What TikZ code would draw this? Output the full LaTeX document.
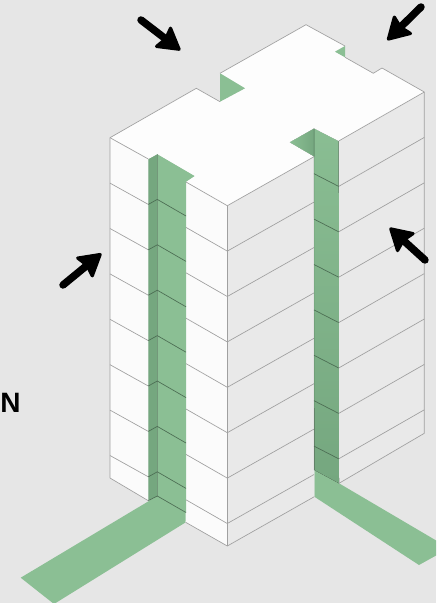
\documentclass[tikz,border=0pt]{standalone}
\usepackage{fontspec}
\setmainfont{Liberation Sans}
\usetikzlibrary{calc}
\definecolor{bgc}{HTML}{E6E6E6}
\definecolor{topc}{HTML}{FDFDFD}
\definecolor{leftc}{HTML}{FBFBFB}
\definecolor{rightc}{HTML}{E9E9E9}
\definecolor{greenc}{HTML}{8BBF94}
\definecolor{greend}{HTML}{75A77F}
\definecolor{greenm}{HTML}{7AAB84}
\definecolor{edgec}{HTML}{A0A0A0}
\tikzset{
  x=0.75pt,y=-0.75pt,
  edgeline/.style={draw=edgec,line width=0.5pt},
  greenline/.style={draw=greend!65!black,line width=0.5pt},
  windshaft/.style={draw=black,line width=5.6pt,line cap=round},
  windhead/.style={draw=black,fill=black,line width=2.4pt,line join=round}
}
\begin{document}
\begin{tikzpicture}
\useasboundingbox (0,0) rectangle (436,603);
\clip (0,0) rectangle (436,603);
\fill[bgc] (0,0) rectangle (436,603);
% ground strips
\fill[greenc] (157.3,496) -- (186,512.5) -- (185.7,522.3) -- (54,604) -- (20.7,577.7) -- cycle;
\fill[greenc] (314.3,470) -- (314.3,496.7) -- (419,565) -- (437,555) -- (437,541) -- (339,483.3) -- cycle;
% walls
\fill[leftc] (110,137.7) -- (148.3,159) -- (148.3,500.7) -- (110,478) -- cycle;
\fill[leftc] (186,182) -- (227.3,205.7) -- (227.3,546) -- (185.7,522.3) -- cycle;
\fill[rightc] (227.3,205.7) -- (314.3,156.7) -- (314.3,496.7) -- (227.3,546) -- cycle;
\fill[rightc] (338.7,141) -- (424.3,92) -- (424.3,433.3) -- (339,483.3) -- cycle;
% shaft one
\fill[greend] (148.3,159) -- (157.3,154) -- (157.3,496) -- (148.3,500.7) -- cycle;
\fill[greenc] (157.3,154) -- (195,176) -- (186,182) -- (186,512.5) -- (157.3,496) -- cycle;
% shaft two
\fill[top color=greenc!92!greenm,bottom color=greend] (314,128.3) -- (338.7,141) -- (339,483.3) -- (314.3,470) -- cycle;
\fill[left color=greenc,right color=greend] (289.3,142.3) -- (314,128.3) -- (314,156.7) -- cycle;
% top
\fill[topc] (110,137.7) -- (196.3,88.3) -- (220,101.7) -- (245,88.3) -- (220,73.3) -- (306,24.7) -- (345,46) -- (335,51.7) -- (373.3,73.3) -- (382,68) -- (424.3,92) -- (338.7,141) -- (314,128.3) -- (289.3,142.3) -- (314,156.7) -- (227.3,205.7) -- (186,182) -- (195,176) -- (157.3,154) -- (148.3,159) -- cycle;
\fill[greenc] (220,73.3) -- (245,88.3) -- (220,101.7) -- cycle;
\fill[greenc] (345,46) -- (345,57.3) -- (335,51.7) -- cycle;
% level lines
\foreach \k in {0,...,7}{
  \pgfmathsetmacro\d{45.4*\k}
  \draw[edgeline] (110,137.7+\d) -- (148.3,159+\d);
  \draw[edgeline] (186,182+\d) -- (227.3,205.7+\d);
  \draw[edgeline] (227.3,205.7+\d) -- (314,156.7+\d);
  \draw[edgeline] (338.7,141+\d) -- (424.3,92+\d);
}
\foreach \k in {1,...,7}{
  \pgfmathsetmacro\d{45.4*\k}
  \draw[greenline] (148.3,159+\d) -- (157.3,154+\d) -- (186,170.6+\d);
  \draw[greenline] (314,128.3+\d) -- (338.7,141+\d);
}
\draw[greenline] (148.3,500.7) -- (157.3,496) -- (186,512.5);
\draw[greenline,draw opacity=.5] (157.3,154) -- (157.3,496);
\draw[greenline,draw opacity=.35] (314,128.3) -- (314.3,470);
% outlines
\draw[edgeline] (110,137.7) -- (110,478) -- (148.3,500.7);
\draw[edgeline] (185.7,522.3) -- (227.3,546) -- (314.3,496.7);
\draw[edgeline] (227.3,205.7) -- (227.3,546);
\draw[edgeline] (339,483.3) -- (424.3,433.3) -- (424.3,92);
\draw[edgeline] (110,137.7) -- (196.3,88.3) -- (220,101.7);
\draw[edgeline] (220,73.3) -- (306,24.7) -- (345,46);
\draw[edgeline] (345,57.3) -- (373.3,73.3) -- (382,68) -- (424.3,92);
% wind arrows
\coordinate (a1) at (141,20);   \coordinate (b1) at (181,50.7);
\coordinate (a2) at (421,7);    \coordinate (b2) at (386.7,40.7);
\coordinate (a3) at (425,260);  \coordinate (b3) at (389,227.3);
\coordinate (a4) at (63,285);   \coordinate (b4) at (102,253);
\foreach \i in {1,...,4}{
  \draw[windshaft] (a\i) -- ($(b\i)!13pt!(a\i)$);
  \draw[windhead] ($(b\i)!1.8pt!(a\i)$) -- ($(b\i)!16.5pt!(a\i)!8.6pt!90:(a\i)$) -- ($(b\i)!14.5pt!(a\i)$) -- ($(b\i)!16.5pt!(a\i)!8.6pt!-90:(a\i)$) -- cycle;
}
\node[anchor=base west,inner sep=0pt,font=\bfseries\fontsize{21pt}{21pt}\selectfont] (north) at (0,412) {N};
\end{tikzpicture}
\end{document}
